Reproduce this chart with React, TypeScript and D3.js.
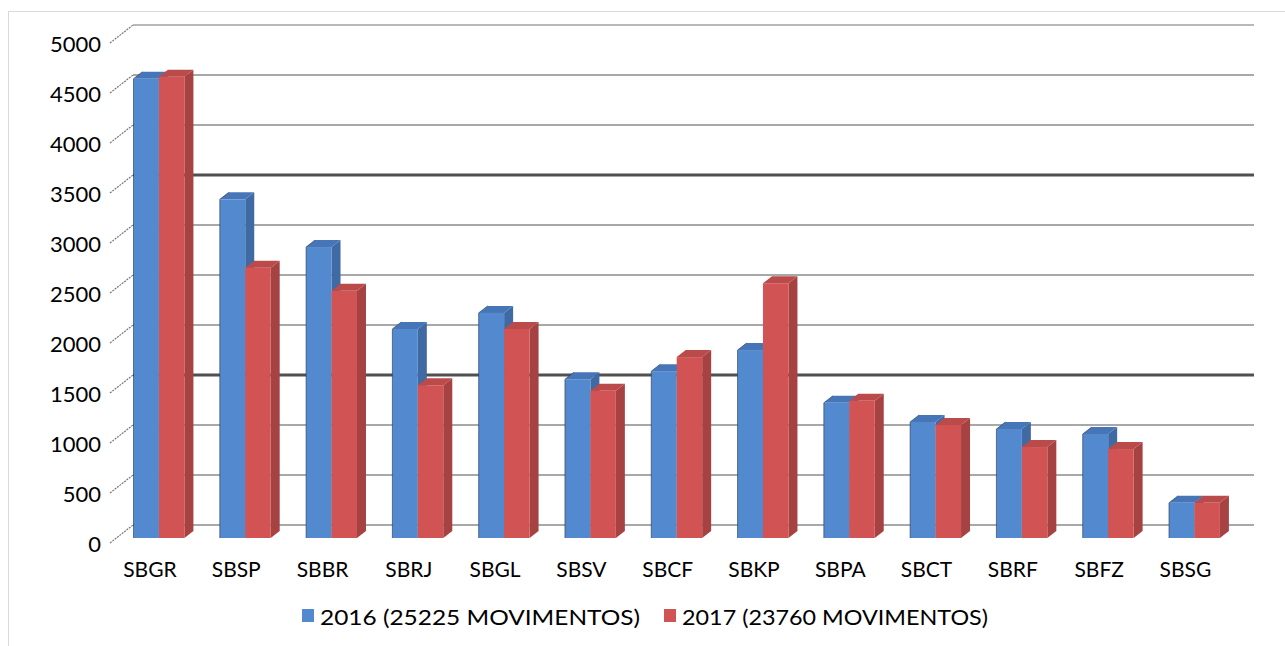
import React, { useEffect, useRef } from "react";
import * as d3 from "d3";

const categories = ["SBGR", "SBSP", "SBBR", "SBRJ", "SBGL", "SBSV", "SBCF", "SBKP", "SBPA", "SBCT", "SBRF", "SBFZ", "SBSG"];
const values2016 = [4570, 3370, 2895, 2080, 2240, 1580, 1660, 1870, 1345, 1155, 1085, 1035, 350];
const values2017 = [4590, 2690, 2460, 1520, 2080, 1465, 1800, 2535, 1365, 1125, 905, 885, 350];
const ticks = [0, 500, 1000, 1500, 2000, 2500, 3000, 3500, 4000, 4500, 5000];
const seriesNames = ["2016 (25225 MOVIMENTOS)", "2017 (23760 MOVIMENTOS)"];

const W = 1285;
const H = 646;
const FONT = "Lato, 'Open Sans', sans-serif";

// 3D wall offset between front labels and back wall
const wallDX = 23;
const wallDY = -18;
// bar depth
const barDX = 9;
const barDY = -7;

const colors = [
  { front: "#5389cf", side: "#3f6aa3", top: "#4676b8" },
  { front: "#d25353", side: "#a64242", top: "#bb4a4a" },
];

export default function App() {
  const svgRef = useRef<SVGSVGElement>(null);

  useEffect(() => {
    const svg = d3.select(svgRef.current);
    svg.selectAll("*").remove();

    const yBack = d3.scaleLinear().domain([0, 5000]).range([525, 25]);
    const yBar = d3.scaleLinear().domain([0, 5000]).range([538, 35.5]);
    const x = d3.scaleBand().domain(categories).range([115.8, 1237.6]).padding(0);
    const barW = x.bandwidth() * 0.295;

    // outer border
    svg.append("rect")
      .attr("x", 8.5).attr("y", 11.5)
      .attr("width", 1290).attr("height", 640)
      .attr("fill", "none").attr("stroke", "#d9d9d9");

    // gridlines on back wall
    const grid = svg.append("g");
    ticks.forEach(t => {
      const thick = t === 1500 || t === 3500;
      grid.append("line")
        .attr("x1", 133).attr("x2", 1254)
        .attr("y1", yBack(t)).attr("y2", yBack(t))
        .attr("stroke", thick ? "#505050" : t === 5000 ? "#b8b8b8" : "#a8a8a8")
        .attr("stroke-width", thick ? 3 : 2);
      // dashed diagonal ticks on the side
      grid.append("line")
        .attr("x1", 133 - wallDX).attr("y1", yBack(t) - wallDY)
        .attr("x2", 133).attr("y2", yBack(t))
        .attr("stroke", "#777").attr("stroke-width", 1.2)
        .attr("stroke-dasharray", "2,1");
      grid.append("text")
        .attr("x", 101).attr("y", yBack(t) - wallDY)
        .attr("text-anchor", "end").attr("dominant-baseline", "central")
        .style("font-family", FONT).style("font-size", "22px").style("fill", "#000")
        .text(String(t));
    });

    // bars
    const bars = svg.append("g");
    categories.forEach((c, i) => {
      const cx = (x(c) as number) + x.bandwidth() / 2;
      [values2016[i], values2017[i]].forEach((v, s) => {
        const x0 = cx - barW + s * barW;
        const x1 = x0 + barW;
        const yb = yBar(0);
        const yt = yBar(v);
        const col = colors[s];
        // side
        bars.append("path")
          .attr("d", `M${x1},${yb}L${x1 + barDX},${yb + barDY}L${x1 + barDX},${yt + barDY}L${x1},${yt}Z`)
          .attr("fill", col.side);
        // top
        bars.append("path")
          .attr("d", `M${x0},${yt}L${x0 + barDX},${yt + barDY}L${x1 + barDX},${yt + barDY}L${x1},${yt}Z`)
          .attr("fill", col.top);
        // front
        bars.append("rect")
          .attr("x", x0).attr("y", yt)
          .attr("width", barW).attr("height", yb - yt)
          .attr("fill", col.front);
        if (s === 0) {
          bars.append("path")
            .attr("d", `M${x0},${yb}L${x0},${yt}L${x0 + barDX},${yt + barDY}`)
            .attr("fill", "none").attr("stroke", "#23364f").attr("stroke-width", 1).attr("opacity", 0.6);
        }
      });
      svg.append("text")
        .attr("x", cx - 9).attr("y", 568)
        .attr("text-anchor", "middle").attr("dominant-baseline", "central")
        .style("font-family", FONT).style("font-size", "21px").style("fill", "#000")
        .text(c);
    });

    // legend
    const legend = svg.append("g");
    const legX = [302, 664];
    const legLen = [320, 306];
    seriesNames.forEach((n, s) => {
      legend.append("rect")
        .attr("x", legX[s]).attr("y", 609)
        .attr("width", 12).attr("height", 13)
        .attr("fill", colors[s].front);
      legend.append("text")
        .attr("x", legX[s] + 18).attr("y", 616)
        .attr("dominant-baseline", "central")
        .attr("textLength", legLen[s]).attr("lengthAdjust", "spacingAndGlyphs")
        .style("font-family", FONT).style("font-size", "22px").style("fill", "#000")
        .text(n);
    });
  }, []);

  return (
    <svg ref={svgRef} width={W} height={H}
      style={{ position: "absolute", left: 0, top: 0, background: "#fff" }} />
  );
}
